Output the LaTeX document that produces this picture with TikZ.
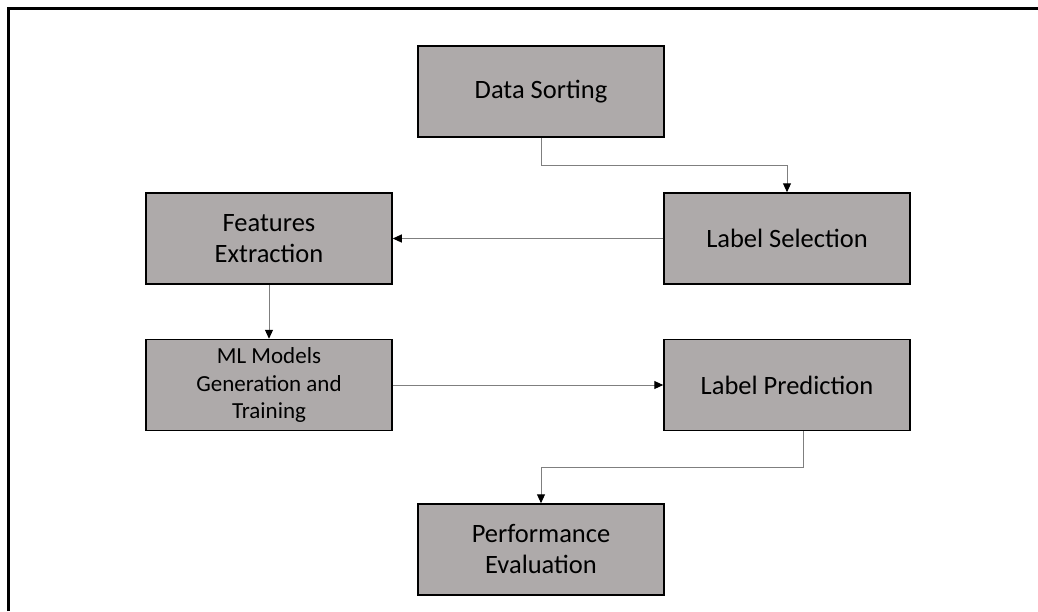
\documentclass[tikz,border=0pt]{standalone}
\usepackage{fontspec}
\setmainfont{Carlito}
\usetikzlibrary{arrows.meta}
\definecolor{boxfill}{HTML}{AEAAAA}
\definecolor{linkgray}{HTML}{7F7F7F}
\tikzset{
  stepbox/.style={draw=black, line width=1.5pt, fill=boxfill, rectangle,
    minimum width=246pt, minimum height=91pt, inner sep=0pt,
    align=center, text=black,
    font=\fontsize{26.5pt}{31pt}\selectfont},
  smalltext/.style={font=\fontsize{23pt}{27.5pt}\selectfont},
  link/.style={draw=linkgray, line width=1pt,
    -{Triangle[length=9pt,width=8pt,color=black]}},
}
\begin{document}
\begin{tikzpicture}[x=1pt, y=-1pt]
  \useasboundingbox (0,0) rectangle (1038,611);
  % frame
  \draw[line width=3pt] (8,611) -- (8,8) -- (1038,8);

  % process steps
  \node[stepbox] (ds) at (541,91.5)  {Data Sorting};
  \node[stepbox] (ls) at (787,238.5) {Label Selection};
  \node[stepbox] (fe) at (269,238.5) {Features\\Extraction};
  \node[stepbox, smalltext] (ml) at (269,385) {ML Models\\Generation and\\Training};
  \node[stepbox] (lp) at (787,385)   {Label Prediction};
  \node[stepbox] (pe) at (541,549.5) {Performance\\Evaluation};

  % connectors
  \draw[link] (ds.south) -- ([yshift=-28pt]ds.south) -| (ls.north);
  \draw[link] (ls.west) -- (fe.east);
  \draw[link] (fe.south) -- (ml.north);
  \draw[link] (ml.east) -- (lp.west);
  \draw[link] ([xshift=16pt]lp.south) -- ([xshift=16pt,yshift=-36pt]lp.south) -| (pe.north);
\end{tikzpicture}
\end{document}
